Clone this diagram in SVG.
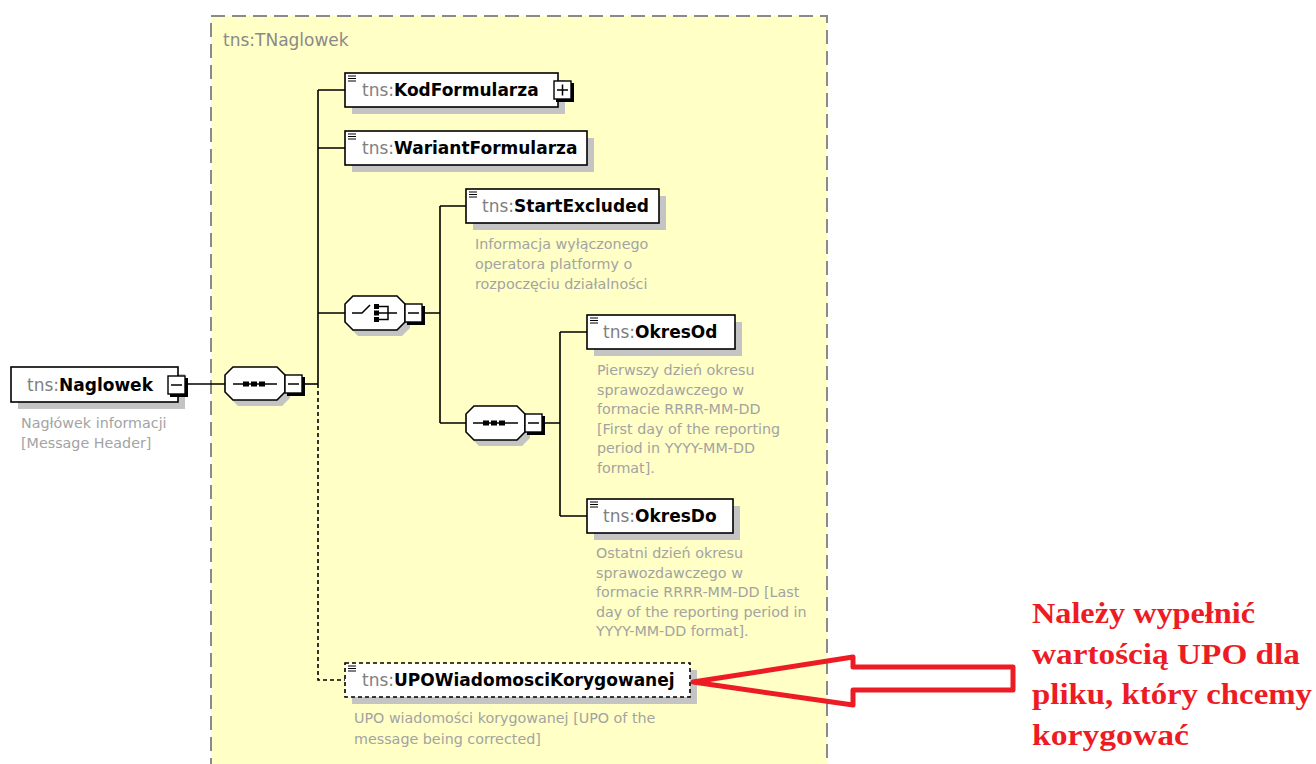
<svg xmlns="http://www.w3.org/2000/svg" width="1316" height="764" viewBox="0 0 1316 764">
<style>
.bg{fill:#fff}
.cont{fill:#FFFFC6;stroke:#8a8a8a;stroke-width:2;stroke-dasharray:14 7}
.title{font-family:"DejaVu Sans",sans-serif;font-size:17px;fill:#8a8a8a}
.box{fill:#fff;stroke:#000;stroke-width:1.6}
.dbox{fill:#fff;stroke:#000;stroke-width:1.6;stroke-dasharray:4 3}
.shadow{fill:#c4c4c4}
.conn{fill:none;stroke:#000;stroke-width:1.6}
.dash{stroke-dasharray:4 3}
.name{font-family:"DejaVu Sans",sans-serif;font-size:17px}
.ns{fill:#808080}
.el{fill:#000;font-weight:bold}
.desc{font-family:"DejaVu Sans",sans-serif;font-size:14.3px;fill:#a3a3a3}
.icon{fill:none;stroke:#000;stroke-width:1.2}
.btn{fill:#fff;stroke:#000;stroke-width:1.4}
.btnsh{fill:#000}
.sym{fill:none;stroke:#000;stroke-width:1.5}
.dot{fill:#000}
.red{fill:none;stroke:#ED1C24;stroke-width:5;stroke-linejoin:round}
.note{font-family:"Liberation Serif","Times New Roman",serif;font-weight:bold;font-size:30px;fill:#ED1C24}
</style>
<rect class="bg" x="0" y="0" width="1316" height="764"/>

<g id="TNaglowek">
<rect class="cont" x="211" y="16" width="616" height="770"/>
<text class="title" x="223" y="46">tns:TNaglowek</text>
</g>

<g id="connectors">
<path class="conn" d="M186,384 H225"/>
<path class="conn" d="M303,384 H318"/>
<path class="conn" d="M318,90 V384 M318,90 H345 M318,148 H345 M318,313 H345"/>
<path class="conn dash" d="M318,384 V680 H345"/>
<path class="conn" d="M423,313 H440 M440,206 V423 M440,206 H466 M440,423 H466"/>
<path class="conn" d="M543,423 H560 M560,332 V516 M560,332 H587 M560,516 H587"/>
</g>

<g id="Naglowek">
<rect class="shadow" x="18" y="374" width="167" height="35"/>
<rect class="box" x="11" y="367" width="167" height="35"/>
<text class="name" x="27" y="391"><tspan class="ns">tns:</tspan><tspan class="el">Naglowek</tspan></text>
<rect class="btnsh" x="170" y="378" width="18" height="19"/>
<rect class="btn" x="168" y="376" width="17" height="18"/>
<path class="sym" d="M171,385 H182"/>
<text class="desc" x="21" y="428">Nagłówek informacji</text>
<text class="desc" x="21" y="448">[Message Header]</text>
</g>

<g id="sequence1">
<path class="shadow" d="M238,373 H282 L290,381 V398 L282,406 H238 L230,398 V381 Z"/>
<path class="box" d="M233,367 H277 L285,375 V392 L277,400 H233 L225,392 V375 Z"/>
<path class="sym" d="M233,384 H277"/>
<rect class="dot" x="243" y="381.5" width="6" height="5"/>
<rect class="dot" x="251" y="381.5" width="6" height="5"/>
<rect class="dot" x="259" y="381.5" width="6" height="5"/>
<rect class="btnsh" x="287" y="377" width="18" height="19"/>
<rect class="btn" x="285" y="375" width="17" height="18"/>
<path class="sym" d="M288,384 H299"/>
</g>

<g id="KodFormularza">
<rect class="shadow" x="352" y="80" width="213" height="34"/>
<rect class="box" x="345" y="73" width="213" height="34"/>
<path class="icon" d="M348,76 h8 M348,78.5 h8 M348,81 h8"/>
<text class="name" x="362" y="96"><tspan class="ns">tns:</tspan><tspan class="el">KodFormularza</tspan></text>
<rect class="btnsh" x="556" y="83" width="18" height="19"/>
<rect class="btn" x="554" y="81" width="17" height="18"/>
<path class="sym" d="M557,90 H568 M562.5,84.5 V95.5"/>
</g>

<g id="WariantFormularza">
<rect class="shadow" x="352" y="138" width="242" height="34"/>
<rect class="box" x="345" y="131" width="242" height="34"/>
<path class="icon" d="M348,134 h8 M348,136.5 h8 M348,139 h8"/>
<text class="name" x="362" y="154"><tspan class="ns">tns:</tspan><tspan class="el">WariantFormularza</tspan></text>
</g>

<g id="choice">
<path class="shadow" d="M358,302 H402 L410,310 V328 L402,336 H358 L350,328 V310 Z"/>
<path class="box" d="M353,296 H397 L405,304 V322 L397,330 H353 L345,322 V304 Z"/>
<path class="sym" d="M352,313 H362 L370,305"/>
<rect class="dot" x="374" y="304" width="5" height="5"/>
<rect class="dot" x="374" y="310.5" width="5" height="5"/>
<rect class="dot" x="374" y="317" width="5" height="5"/>
<path class="sym" d="M379,306.5 H388 V319.5 H379 M379,313 H397"/>
<rect class="btnsh" x="407" y="306" width="18" height="19"/>
<rect class="btn" x="405" y="304" width="17" height="18"/>
<path class="sym" d="M408,313 H419"/>
</g>

<g id="StartExcluded">
<rect class="shadow" x="473" y="196" width="193" height="34"/>
<rect class="box" x="466" y="189" width="193" height="34"/>
<path class="icon" d="M469,192 h8 M469,194.5 h8 M469,197 h8"/>
<text class="name" x="482" y="212"><tspan class="ns">tns:</tspan><tspan class="el">StartExcluded</tspan></text>
<text class="desc" x="475" y="249">Informacja wyłączonego</text>
<text class="desc" x="475" y="269">operatora platformy o</text>
<text class="desc" x="475" y="289">rozpoczęciu działalności</text>
</g>

<g id="sequence2">
<path class="shadow" d="M479,412 H522 L530,420 V438 L522,446 H479 L471,438 V420 Z"/>
<path class="box" d="M474,406 H517 L525,414 V432 L517,440 H474 L466,432 V414 Z"/>
<path class="sym" d="M473,423 H518"/>
<rect class="dot" x="483" y="420.5" width="6" height="5"/>
<rect class="dot" x="491" y="420.5" width="6" height="5"/>
<rect class="dot" x="499" y="420.5" width="6" height="5"/>
<rect class="btnsh" x="527" y="416" width="18" height="19"/>
<rect class="btn" x="525" y="414" width="17" height="18"/>
<path class="sym" d="M528,423 H539"/>
</g>

<g id="OkresOd">
<rect class="shadow" x="594" y="322" width="148" height="34"/>
<rect class="box" x="587" y="315" width="148" height="34"/>
<path class="icon" d="M590,318 h8 M590,320.5 h8 M590,323 h8"/>
<text class="name" x="603" y="338"><tspan class="ns">tns:</tspan><tspan class="el">OkresOd</tspan></text>
<text class="desc" x="597" y="375">Pierwszy dzień okresu</text>
<text class="desc" x="597" y="394.5">sprawozdawczego w</text>
<text class="desc" x="597" y="414">formacie RRRR-MM-DD</text>
<text class="desc" x="597" y="433.5">[First day of the reporting</text>
<text class="desc" x="597" y="453">period in YYYY-MM-DD</text>
<text class="desc" x="597" y="472.5">format].</text>
</g>

<g id="OkresDo">
<rect class="shadow" x="594" y="506" width="146" height="34"/>
<rect class="box" x="587" y="499" width="146" height="34"/>
<path class="icon" d="M590,502 h8 M590,504.5 h8 M590,507 h8"/>
<text class="name" x="603" y="522"><tspan class="ns">tns:</tspan><tspan class="el">OkresDo</tspan></text>
<text class="desc" x="596" y="558">Ostatni dzień okresu</text>
<text class="desc" x="596" y="577.5">sprawozdawczego w</text>
<text class="desc" x="596" y="597">formacie RRRR-MM-DD [Last</text>
<text class="desc" x="596" y="616.5">day of the reporting period in</text>
<text class="desc" x="596" y="636">YYYY-MM-DD format].</text>
</g>

<g id="UPOWiadomosciKorygowanej">
<rect class="shadow" x="352" y="670" width="345" height="34"/>
<rect class="dbox" x="345" y="663" width="345" height="34"/>
<path class="icon" d="M348,666 h8 M348,668.5 h8 M348,671 h8"/>
<text class="name" x="362" y="686"><tspan class="ns">tns:</tspan><tspan class="el">UPOWiadomosciKorygowanej</tspan></text>
<text class="desc" x="354" y="723">UPO wiadomości korygowanej [UPO of the</text>
<text class="desc" x="354" y="744">message being corrected]</text>
</g>

<g id="annotation">
<path class="red" d="M693,682 L853,657 V667 H1013 V690 H853 V705 Z"/>
<text class="note" x="1032" y="623" textLength="223" lengthAdjust="spacingAndGlyphs">Należy wypełnić</text>
<text class="note" x="1032" y="664" textLength="268" lengthAdjust="spacingAndGlyphs">wartością UPO dla</text>
<text class="note" x="1032" y="704" textLength="280" lengthAdjust="spacingAndGlyphs">pliku, który chcemy</text>
<text class="note" x="1032" y="745" textLength="157" lengthAdjust="spacingAndGlyphs">korygować</text>
</g>
</svg>
